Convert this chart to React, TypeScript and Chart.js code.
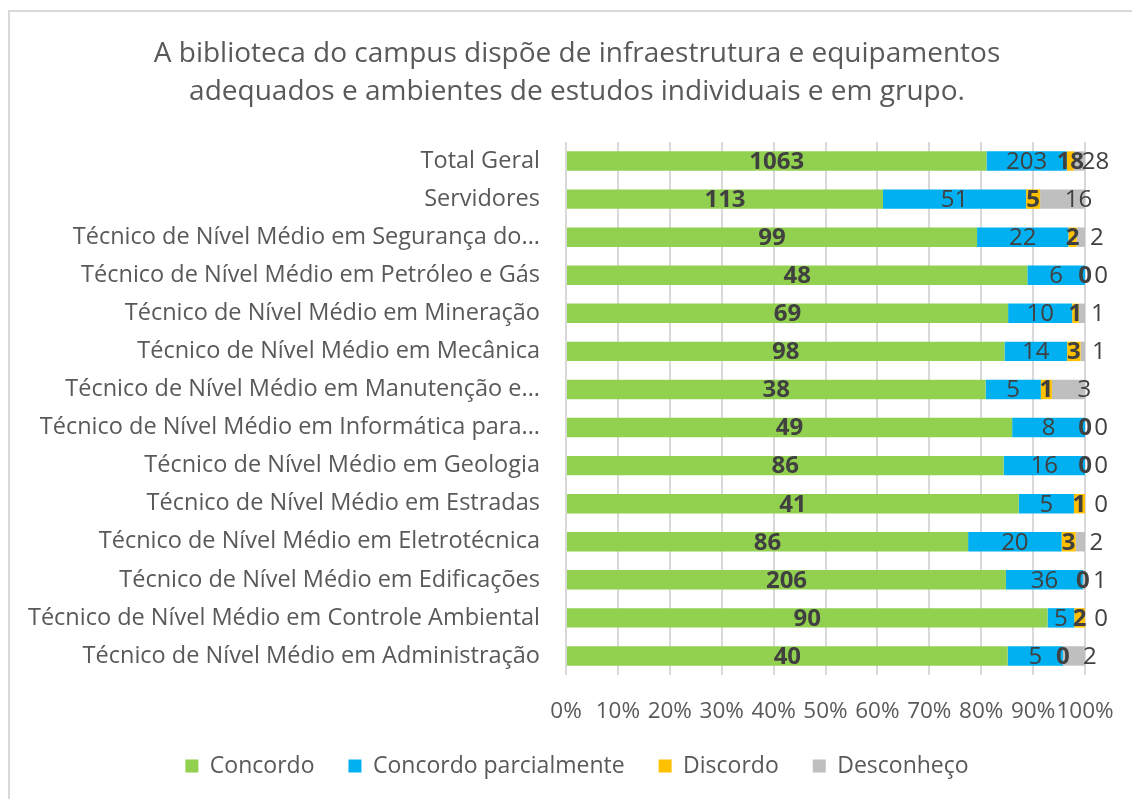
import { useEffect, useRef } from "react";
import { Chart, registerables } from "chart.js";

Chart.register(...registerables);

const TITLE_LINES = [
  "A biblioteca do campus dispõe de infraestrutura e equipamentos",
  "adequados e ambientes de estudos individuais e em grupo.",
];

const CATEGORIES = [
  "Total Geral",
  "Servidores",
  "Técnico de Nível Médio em Segurança do...",
  "Técnico de Nível Médio em Petróleo e Gás",
  "Técnico de Nível Médio em Mineração",
  "Técnico de Nível Médio em Mecânica",
  "Técnico de Nível Médio em Manutenção e...",
  "Técnico de Nível Médio em Informática para...",
  "Técnico de Nível Médio em Geologia",
  "Técnico de Nível Médio em Estradas",
  "Técnico de Nível Médio em Eletrotécnica",
  "Técnico de Nível Médio em Edificações",
  "Técnico de Nível Médio em Controle Ambiental",
  "Técnico de Nível Médio em Administração",
];

const CONCORDO = [1063, 113, 99, 48, 69, 98, 38, 49, 86, 41, 86, 206, 90, 40];
const CONCORDO_PARCIAL = [203, 51, 22, 6, 10, 14, 5, 8, 16, 5, 20, 36, 5, 5];
const DISCORDO = [18, 5, 2, 0, 1, 3, 1, 0, 0, 1, 3, 0, 2, 0];
const DESCONHECO = [28, 16, 2, 0, 1, 1, 3, 0, 0, 0, 2, 1, 0, 2];

const SERIES_NAMES = ["Concordo", "Concordo parcialmente", "Discordo", "Desconheço"];
const SERIES_COLORS = ["#92d050", "#00b0f0", "#ffc000", "#bfbfbf"];
const SERIES_VALUES = [CONCORDO, CONCORDO_PARCIAL, DISCORDO, DESCONHECO];

const FONT = '"Open Sans", "Noto Sans", sans-serif';

const segmentLabels = {
  id: "segmentLabels",
  afterDatasetsDraw(chart: any) {
    const ctx = chart.ctx;
    ctx.save();
    ctx.textBaseline = "middle";
    ctx.textAlign = "center";
    ctx.fillStyle = "#404040";
    chart.data.datasets.forEach((ds: any, di: number) => {
      const meta = chart.getDatasetMeta(di);
      const raw: number[] = ds.rawValues;
      meta.data.forEach((el: any, i: number) => {
        const { x, y, base } = el.getProps(["x", "y", "base"], true);
        let cx = (x + base) / 2;
        if (di === 3) cx += 16;
        ctx.font = `${di === 0 || di === 2 ? "bold " : ""}24px ${FONT}`;
        ctx.fillText(String(raw[i]), cx, y + 1);
      });
    });
    ctx.restore();
  },
};

export default function App() {
  const ref = useRef<HTMLCanvasElement | null>(null);

  useEffect(() => {
    const canvas = ref.current;
    if (!canvas) return;
    const totals = CATEGORIES.map((_, i) =>
      SERIES_VALUES.reduce((s, arr) => s + arr[i], 0)
    );
    const datasets = SERIES_VALUES.map((arr, si) => ({
      label: SERIES_NAMES[si],
      data: arr.map((v, i) => (v / totals[i]) * 100),
      rawValues: arr,
      backgroundColor: SERIES_COLORS[si],
      borderWidth: 0,
      categoryPercentage: 1,
      barPercentage: 0.51,
    }));

    const chart = new Chart(canvas, {
      type: "bar",
      data: { labels: CATEGORIES, datasets: datasets as any },
      plugins: [segmentLabels],
      options: {
        indexAxis: "y",
        responsive: false,
        animation: false,
        devicePixelRatio: 1,
        layout: { padding: { top: 10, left: 20, right: 26, bottom: 11.5 } },
        plugins: {
          title: {
            display: true,
            text: TITLE_LINES,
            color: "#595959",
            font: { family: FONT, size: 28, weight: "normal", lineHeight: 38 / 28 },
            padding: { top: 25, bottom: 31 },
          },
          legend: {
            position: "bottom",
            labels: {
              boxWidth: 13,
              boxHeight: 13,
              padding: 34,
              color: "#595959",
              font: { family: FONT, size: 23 },
            },
          },
          tooltip: { enabled: false },
        },
        scales: {
          x: {
            stacked: true,
            min: 0,
            max: 100,
            grid: { color: "#d9d9d9", lineWidth: 2, drawTicks: false },
            border: { display: false },
            ticks: {
              stepSize: 10,
              autoSkip: false,
              maxRotation: 0,
              padding: 23,
              color: "#595959",
              font: { family: FONT, size: 22.5 },
              callback: (v: any) => `${v}%`,
            },
            afterFit: (scale: any) => {
              scale.height = 45.5;
            },
          },
          y: {
            stacked: true,
            grid: { display: false, drawTicks: false },
            border: { display: false },
            ticks: {
              padding: 26,
              autoSkip: false,
              color: "#595959",
              font: { family: FONT, size: 23.5 },
            },
            afterFit: (scale: any) => {
              scale.width = 546;
            },
          },
          yRight: {
            type: "category",
            position: "right",
            labels: CATEGORIES,
            grid: { display: false, drawTicks: false },
            border: { display: false },
            ticks: { display: false },
            afterFit: (scale: any) => {
              scale.width = 49;
            },
          },
        },
      } as any,
    });
    return () => chart.destroy();
  }, []);

  return (
    <>
      <div
        style={{
          position: "fixed",
          left: 8,
          top: 10,
          width: 1160,
          height: 820,
          border: "2px solid #d9d9d9",
          boxSizing: "border-box",
          background: "#ffffff",
        }}
      />
      <canvas
        ref={ref}
        width={1160}
        height={799}
        style={{ position: "fixed", left: 0, top: 0, width: 1160, height: 799 }}
      />
    </>
  );
}
